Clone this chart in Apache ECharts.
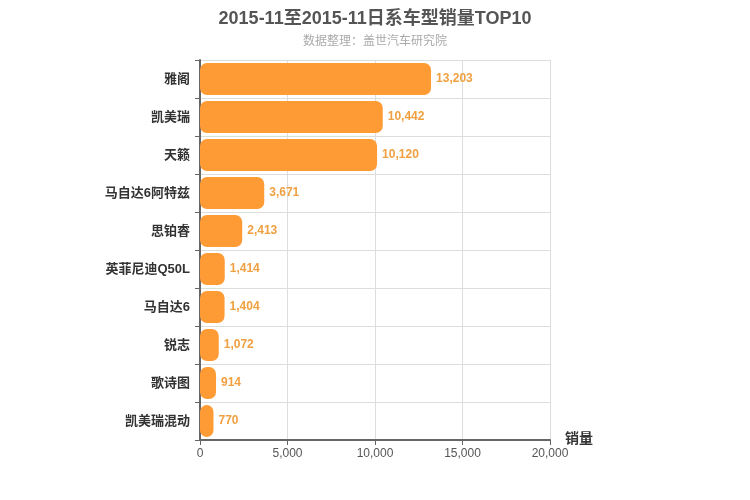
<!DOCTYPE html>
<html><head><meta charset="utf-8">
<script src="https://cdn.jsdelivr.net/npm/echarts@6/dist/echarts.min.js"></script>
<style>html,body{margin:0;padding:0;background:#fff}#c{width:750px;height:500px}</style>
</head><body><div id="c"></div>
<script>
const categories = ['雅阁','凯美瑞','天籁','马自达6阿特兹','思铂睿','英菲尼迪Q50L','马自达6','锐志','歌诗图','凯美瑞混动'];
const sales = [13203,10442,10120,3671,2413,1414,1404,1072,914,770];
const xTicks = [0,5000,10000,15000,20000];

const chart = echarts.init(document.getElementById('c'));
chart.setOption({
  animation:false,
  textStyle:{fontFamily:'"Liberation Sans","Noto Sans CJK SC",sans-serif'},
  title:{
    text:'2015-11至2015-11日系车型销量TOP10',
    subtext:'数据整理：盖世汽车研究院',
    left:'center', top:5, itemGap:8,
    textStyle:{fontSize:18,fontWeight:'bold',color:'#555'},
    subtextStyle:{fontSize:12,color:'#aaa'}
  },
  grid:{left:200,right:200,top:60,bottom:60,containLabel:false},
  xAxis:{
    type:'value', min:xTicks[0], max:xTicks[xTicks.length-1], interval:5000,
    name:'销量', nameLocation:'end', nameGap:15,
    nameTextStyle:{fontSize:14,fontWeight:'bold',color:'#333',verticalAlign:'top',padding:[-8,0,0,0]},
    axisLine:{show:true,lineStyle:{color:'#666',width:2}},
    axisTick:{show:true,lineStyle:{color:'#666'}},
    axisLabel:{color:'#555',fontSize:12,formatter:v=>v.toLocaleString('en-US')},
    splitLine:{show:true,lineStyle:{color:'#ddd'}}
  },
  yAxis:{
    type:'category', data:categories, inverse:true,
    axisLine:{show:true,lineStyle:{color:'#666',width:2}},
    axisTick:{show:true,lineStyle:{color:'#666'}},
    axisLabel:{color:'#333',fontSize:13,fontWeight:'bold',margin:10},
    splitLine:{show:true,lineStyle:{color:'#ddd'}}
  },
  series:[{
    type:'bar', data:sales, barCategoryGap:'16%',
    itemStyle:{color:'#ff9b35',borderRadius:7},
    label:{show:true,position:'right',color:'#f0a040',fontSize:12,fontWeight:'bold',
      formatter:p=>p.value.toLocaleString('en-US')}
  }]
});
</script></body></html>
